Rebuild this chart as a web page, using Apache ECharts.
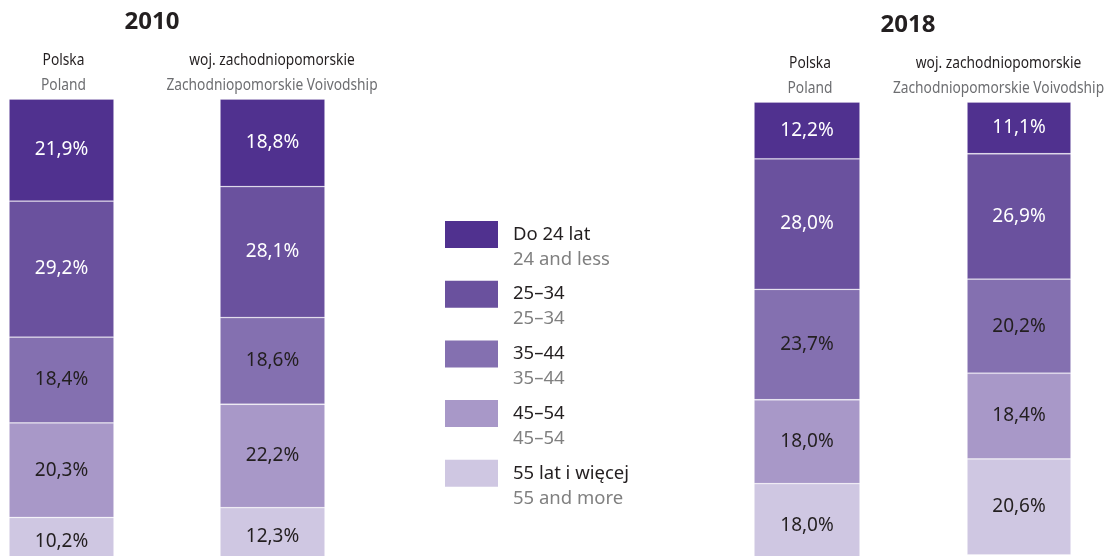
<!DOCTYPE html>
<html>
<head>
<meta charset="utf-8">
<script src="https://cdn.jsdelivr.net/npm/echarts@6/dist/echarts.min.js"></script>
<style>html,body{margin:0;padding:0;background:#fff}#c{width:1107px;height:556px}</style>
</head>
<body>
<div id="c"></div>
<script>
// ---- data ----
const ageGroups = ['Do 24 lat', '25–34', '35–44', '45–54', '55 lat i więcej'];
const ageGroupsEn = ['24 and less', '25–34', '35–44', '45–54', '55 and more'];
const years = ['2010', '2018'];
const regions = ['Polska', 'woj. zachodniopomorskie'];
const regionsEn = ['Poland', 'Zachodniopomorskie Voivodship'];
const poland2010 = [21.9, 29.2, 18.4, 20.3, 10.2];
const zachodnio2010 = [18.8, 28.1, 18.6, 22.2, 12.3];
const poland2018 = [12.2, 28.0, 23.7, 18.0, 18.0];
const zachodnio2018 = [11.1, 26.9, 20.2, 18.4, 20.6];

// ---- styles / layout ----
const bars = [poland2010, zachodnio2010, poland2018, zachodnio2018];
const palette = ['#50318f', '#6a519e', '#8470b0', '#a898c8', '#cfc7e2'];
const labelColors = ['#ffffff', '#ffffff', '#231f20', '#231f20', '#231f20'];
const gridBoxes = [
  {left: 9, top: 99, width: 105, height: 466},
  {left: 220, top: 99, width: 105, height: 466},
  {left: 754, top: 102, width: 106, height: 466},
  {left: 967, top: 102, width: 104, height: 466}
];
const FONT = '"Noto Sans", "Open Sans", sans-serif';
const fmt = v => v.toFixed(1).replace('.', ',') + '%';

const grid = gridBoxes.map(g => Object.assign({outerBoundsMode: 'none', containLabel: false}, g));
const xAxis = gridBoxes.map((g, i) => ({type: 'category', gridIndex: i, data: [''], show: false}));
const yAxis = gridBoxes.map((g, i) => ({type: 'value', gridIndex: i, min: 0, max: 100, inverse: true, show: false}));

const series = [];
bars.forEach((vals, b) => {
  vals.forEach((v, i) => {
    series.push({
      type: 'bar',
      name: ageGroups[i],
      xAxisIndex: b,
      yAxisIndex: b,
      stack: 'bar' + b,
      barWidth: '100%',
      clip: false,
      data: [v],
      itemStyle: {color: palette[i], borderColor: 'rgba(255,255,255,0.28)', borderWidth: 0.8},
      label: {
        show: true, position: 'inside', formatter: p => fmt(p.value),
        color: labelColors[i], fontFamily: FONT, fontSize: 19
      },
      emphasis: {disabled: true},
      silent: true
    });
  });
});

const headerPos = [
  {x: 63.5, y: 60}, {x: 272, y: 60}, {x: 810, y: 63}, {x: 998.5, y: 63}
];
const yearPos = [{x: 152, y: 22}, {x: 908, y: 25}];
const graphic = [];
years.forEach((y, i) => {
  graphic.push({type: 'text', x: yearPos[i].x, y: yearPos[i].y,
    style: {text: y, align: 'center', verticalAlign: 'middle', font: 'bold 24px ' + FONT, fill: '#231f20'}});
});
headerPos.forEach((p, i) => {
  graphic.push({type: 'text', x: p.x, y: p.y, scaleX: 0.81,
    style: {text: regions[i % 2], align: 'center', verticalAlign: 'middle', font: '17px ' + FONT, fill: '#231f20'}});
  graphic.push({type: 'text', x: p.x, y: p.y + 25, scaleX: 0.81,
    style: {text: regionsEn[i % 2], align: 'center', verticalAlign: 'middle', font: '17px ' + FONT, fill: '#6d6e71'}});
});

const option = {
  animation: false,
  grid, xAxis, yAxis, series, graphic,
  legend: {
    data: ageGroups,
    orient: 'vertical',
    left: 445,
    top: 221,
    height: 320,
    padding: 0,
    itemWidth: 53,
    itemHeight: 27,
    itemGap: 11.7,
    icon: 'rect',
    selectedMode: false,
    itemStyle: {borderWidth: 0},
    formatter: name => '{a|' + name + '}\n{b|' + ageGroupsEn[ageGroups.indexOf(name)] + '}',
    textStyle: {
      padding: [25, 0, 0, 10],
      rich: {
        a: {fontFamily: FONT, fontSize: 18.5, color: '#231f20', lineHeight: 25},
        b: {fontFamily: FONT, fontSize: 18.5, color: '#808080', lineHeight: 25}
      }
    }
  }
};
const chart = echarts.init(document.getElementById('c'), null, {renderer: 'canvas'});
chart.setOption(option);
</script>
</body>
</html>
